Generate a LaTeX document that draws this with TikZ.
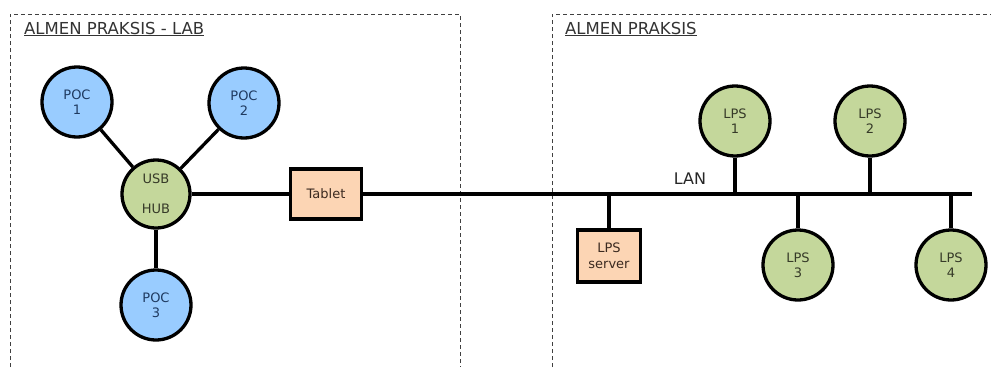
\documentclass[tikz,border=0pt]{standalone}
\usepackage{fontspec}
\setmainfont{DejaVu Sans}
\usepackage{tikz}
\definecolor{pocblue}{HTML}{99CCFF}
\definecolor{lpsgreen}{HTML}{C4D79B}
\definecolor{boxtan}{HTML}{FCD5B4}
\definecolor{pocink}{HTML}{1F3A60}
\definecolor{lpsink}{HTML}{363A28}
\definecolor{boxink}{HTML}{3B2A20}
\newcommand{\drawToLan}[1]{\draw[wire] (#1) to (#1 |- lan)}

\begin{document}
\begin{tikzpicture}[x=1pt,y=-1pt,
		wire/.style={line width=3.3pt},
		frame/.style={draw=black!75,line width=0.9pt,dash pattern=on 4pt off 3pt},
		title/.style={anchor=base west,inner sep=0pt,font=\fontsize{16.5}{19}\selectfont,text=black!80},
		pocnode/.style={circle,draw,line width=3.3pt,fill=pocblue,minimum size=70pt,inner sep=0pt,align=center,text=pocink,font=\fontsize{13}{15}\selectfont},
		lpsnode/.style={pocnode,fill=lpsgreen,text=lpsink},
		boxnode/.style={rectangle,draw,line width=3.3pt,fill=boxtan,inner sep=0pt,align=center,text=boxink,font=\fontsize{13}{16}\selectfont}]
		\useasboundingbox (0,0) rectangle (991,367);
		
		\begin{scope}
			\draw[frame] (10,367) to (10,14) to (460,14) to (460,367);
			\draw[frame] (552,367) to (552,14) to (991,14);
			\node[title] (labtitle) at (24,34) {\underline{ALMEN PRAKSIS - LAB}};
			\node[title] (praksistitle) at (565,34) {\underline{ALMEN PRAKSIS}};
		\end{scope}
		
		\node[lpsnode,minimum size=68pt] (hub) at (156,194) {USB\\[15pt]HUB};
		\node[pocnode] (poc1) at (77,102) {POC\\1};
		\node[pocnode] (poc2) at (244,103) {POC\\2};
		\node[pocnode] (poc3) at (156,305) {POC\\3};
		\node[boxnode,minimum width=71pt,minimum height=50pt] (tablet) at (326,194) {Tablet};
		\draw[wire] (hub) to (poc1);
		\draw[wire] (hub) to (poc2);
		\draw[wire] (hub) to (poc3);
		\draw[wire] (hub) to (tablet);
		
		\coordinate (lan) at (972,194);
		\draw[wire] (tablet) to (lan);
		\node[font=\fontsize{16}{19}\selectfont,text=black!85] (lanlabel) at (690,179) {LAN};
		
		\node[lpsnode] (lps1) at (735,121) {LPS\\1};
		\node[lpsnode] (lps2) at (870,121) {LPS\\2};
		\node[lpsnode] (lps3) at (798,265) {LPS\\3};
		\node[lpsnode] (lps4) at (951,265) {LPS\\4};
		\node[boxnode,minimum width=63pt,minimum height=52pt] (server) at (609,256) {LPS\\server};
		
		\drawToLan{lps1};
		\drawToLan{lps2};
		\drawToLan{lps3};
		\drawToLan{lps4};
		\drawToLan{server};
	\end{tikzpicture}
\end{document}
